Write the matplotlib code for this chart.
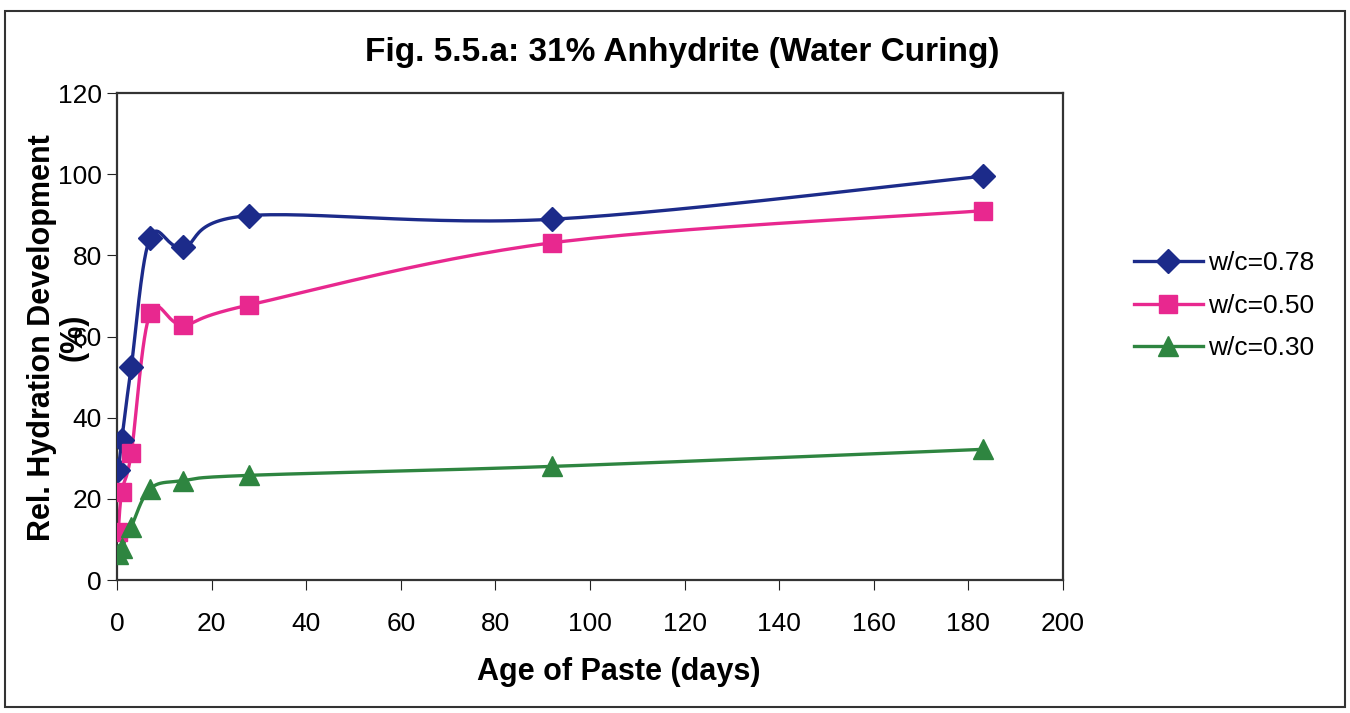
import numpy as np
import matplotlib.pyplot as plt
from matplotlib.patches import Rectangle

plt.rcParams['font.family'] = ['Liberation Sans', 'DejaVu Sans']

# dati
eta_giorni = [0.25, 1, 3, 7, 14, 28, 92, 183]
wc_078 = [27, 34.6, 52.5, 84.4, 82, 89.8, 88.9, 99.5]
wc_050 = [11.9, 21.8, 31.2, 65.8, 62.9, 67.8, 83.1, 91]
wc_030 = [6.5, 8, 13.1, 22.5, 24.5, 25.8, 28, 32.2]
etichette = ['w/c=0.78', 'w/c=0.50', 'w/c=0.30']


def curva_liscia(x, y, passi=30):
    # spline tipo Catmull-Rom, simile alla linea smussata di Excel
    x = np.asarray(x, float)
    y = np.asarray(y, float)
    px = np.concatenate([[x[0]], x, [x[-1]]])
    py = np.concatenate([[y[0]], y, [y[-1]]])
    xs, ys = [], []
    t = np.linspace(0, 1, passi)
    for i in range(1, len(px) - 2):
        p0, p1, p2, p3 = (np.array([px[j], py[j]]) for j in range(i - 1, i + 3))
        c1 = p1 + (p2 - p0) / 6
        c2 = p2 - (p3 - p1) / 6
        for tt in t:
            b = ((1 - tt) ** 3) * p1 + 3 * (1 - tt) ** 2 * tt * c1 + 3 * (1 - tt) * tt ** 2 * c2 + tt ** 3 * p2
            xs.append(b[0])
            ys.append(b[1])
    return xs, ys


fig = plt.figure(figsize=(13.5, 7.13), dpi=100)
ax = fig.add_axes([0.0867, 0.1865, 0.7007, 0.683])

serie = [
    (wc_078, '#1c2b8a', 'D', 12),
    (wc_050, '#e8288f', 's', 13),
    (wc_030, '#2e8540', '^', 14),
]
for (valori, colore, marker, ms), nome in zip(serie, etichette):
    xs, ys = curva_liscia(eta_giorni, valori)
    ax.plot(xs, ys, color=colore, lw=2.4, zorder=2)
    ax.plot(eta_giorni, valori, linestyle='none', marker=marker, ms=ms,
            color=colore, zorder=3)
    ax.plot([], [], color=colore, lw=2.4, marker=marker, ms=ms, label=nome)

ax.set_xlim(0, 200)
ax.set_ylim(0, 120)
ax.set_xticks(range(0, 201, 20))
ax.set_yticks(range(0, 121, 20))
ax.tick_params(labelsize=19, direction='out', length=7, color='#222222')
ax.tick_params(axis='x', pad=16)
ax.tick_params(axis='y', pad=4)
for lato in ax.spines.values():
    lato.set_color('#333333')
    lato.set_linewidth(1.6)

fig.text(0.505, 0.927, 'Fig. 5.5.a: 31% Anhydrite (Water Curing)', fontsize=24,
         fontweight='bold', ha='center', va='center')
fig.text(0.458, 0.0575, 'Age of Paste (days)', fontsize=22, fontweight='bold',
         ha='center', va='center')
fig.text(0.043, 0.527, 'Rel. Hydration Development\n(%)', fontsize=22,
         fontweight='bold', ha='center', va='center', rotation=90,
         linespacing=1.05, multialignment='center')

ax.legend(loc='center left', bbox_to_anchor=(1.05, 0.563), frameon=False,
          fontsize=19, handlelength=2.6, labelspacing=0.7, handletextpad=0.2)

# cornice esterna del grafico
fig.patches.append(Rectangle((0.004, 0.008), 0.992, 0.976, transform=fig.transFigure,
                             fill=False, edgecolor='#333333', lw=1.5))

fig.savefig('out.png', dpi=100)
